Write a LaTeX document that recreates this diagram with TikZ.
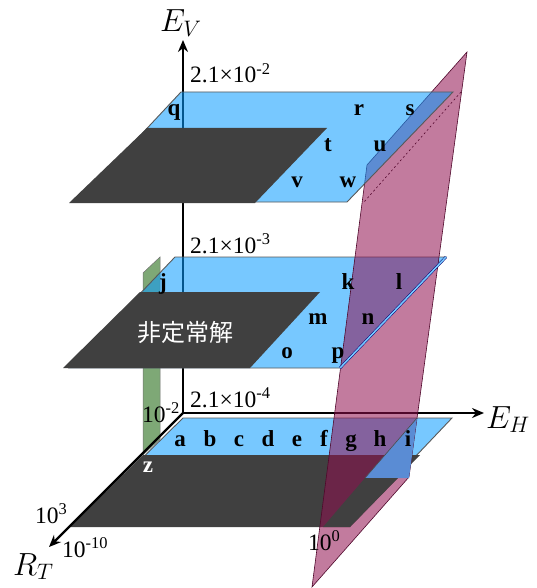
\RequirePackage{fix-cm}
\documentclass[tikz,border=0pt]{standalone}
\usepackage{fontspec}
\setmainfont{Liberation Serif}
\newfontfamily\cjkfont{Noto Sans CJK JP}
\usepackage{tikz}
\usetikzlibrary{arrows.meta}
\definecolor{planeblue}{RGB}{8,155,255}
\definecolor{frontblue}{RGB}{90,140,212}
\definecolor{planegrey}{HTML}{404040}
\definecolor{cutpink}{RGB}{144,15,79}
\definecolor{wallgreen}{RGB}{126,168,118}
\tikzset{
  blue plane/.style  = {fill=planeblue, fill opacity=0.55, draw=black!65, line width=0.9pt},
  black plane/.style = {fill=planegrey},
  pink plane/.style  = {fill=cutpink, fill opacity=0.55, draw=cutpink!55!black, line width=0.6pt},
  green plane/.style = {fill=wallgreen, draw=black!55, line width=0.5pt},
  axis/.style        = {line width=2.2pt, -{Stealth[length=12pt, width=10pt]}},
  point label/.style = {font=\fontsize{23}{23}\selectfont\bfseries, anchor=base, inner sep=0pt},
  value label/.style = {font=\fontsize{23.5}{23.5}\selectfont, anchor=base west, inner sep=0pt},
  axis label/.style  = {font=\fontsize{32}{32}\selectfont, anchor=base west, inner sep=0pt},
}

\begin{document}
\begin{tikzpicture}[x=1pt, y=-1pt]
    \useasboundingbox (0,0) rectangle (537,588);
    \coordinate (O) at (183,413);
    \coordinate (EV) at (183,40);
    \coordinate (EH) at (484,413);
    \coordinate (RT) at (49,547);
    \draw[axis] (O) -- (EV);
    \draw[axis] (O) -- (EH);
    \draw[green plane] (143,273) -- (160,257) -- (160,439) -- (143,455) -- cycle;
    \path[blue plane] (183,418) -- (452,418) -- (395,478) -- (122,478) -- cycle;
    \fill[black plane] (143,455) -- (420,455) -- (350,527) -- (70,527) -- cycle;
    \path[blue plane] (175,257) -- (446,257) -- (340,368) -- (69,368) -- cycle;
    \fill[black plane] (140,292) -- (320,292) -- (250,368) -- (63,368) -- cycle;
    \path[pink plane] (467,52) -- (409,477) -- (312,587) -- (367,165) -- cycle;
    \draw[cutpink!60!black, dashed, dash pattern=on 2pt off 2.5pt, line width=0.6pt] (461,92) -- (364,202);
    \path[blue plane] (181,92) -- (453,92) -- (347,202) -- (78,202) -- cycle;
    \fill[black plane] (147,128) -- (327,128) -- (255,203) -- (69,203) -- cycle;
    \fill[frontblue] (417,418) -- (409,478) -- (365,478) -- cycle;
    \fill[black plane] (365,478) -- (398,478) -- (350,527) -- (323,527) -- cycle;
    \draw[black!70, line width=0.6pt] (417,418) -- (365,478);
    \draw[draw=blue!45!black, double=planeblue!55, double distance=1.6pt, line width=0.5pt] (340,368) -- (446,257);
    \draw[axis] (O) -- (RT);
    \node[axis label] (ev) at (160,32) {$E_V$};
    \node[axis label] (eh) at (486,428) {$E_H$};
    \node[axis label] (rt) at (13,575) {$R_T$};
    \node[value label] (v2) at (190,83) {2.1×10\textsuperscript{-2}};
    \node[value label] (v3) at (190,253) {2.1×10\textsuperscript{-3}};
    \node[value label] (v4) at (190,407) {2.1×10\textsuperscript{-4}};
    \node[value label] (h0) at (142,422) {10\textsuperscript{-2}};
    \node[value label] (r3) at (35,523) {10\textsuperscript{3}};
    \node[value label] (r10) at (62,557) {10\textsuperscript{-10}};
    \node[value label] (e0) at (308,550) {10\textsuperscript{0}};
    \foreach \l/\x in {a/180,b/210,c/239,d/268,e/297,f/324,g/351,h/380,i/408}
      \node[point label] (\l) at (\x,446) {\l};
    \node[point label, text=white] (z) at (148,472) {z};
    \foreach \l/\x/\y in {j/163/289,k/348/289,l/399/289,m/318/324,n/368/324,o/287/358,p/338/358}
      \node[point label] (\l) at (\x,\y) {\l};
    \foreach \l/\x/\y in {q/174/116,r/359/116,s/410/116,t/328/152,u/380/152,v/297/187,w/348/187}
      \node[point label] (\l) at (\x,\y) {\l};
    \node[font=\cjkfont\fontsize{24}{24}\selectfont, text=white] (unsteady) at (185,332) {非定常解};
\end{tikzpicture}
\end{document}
